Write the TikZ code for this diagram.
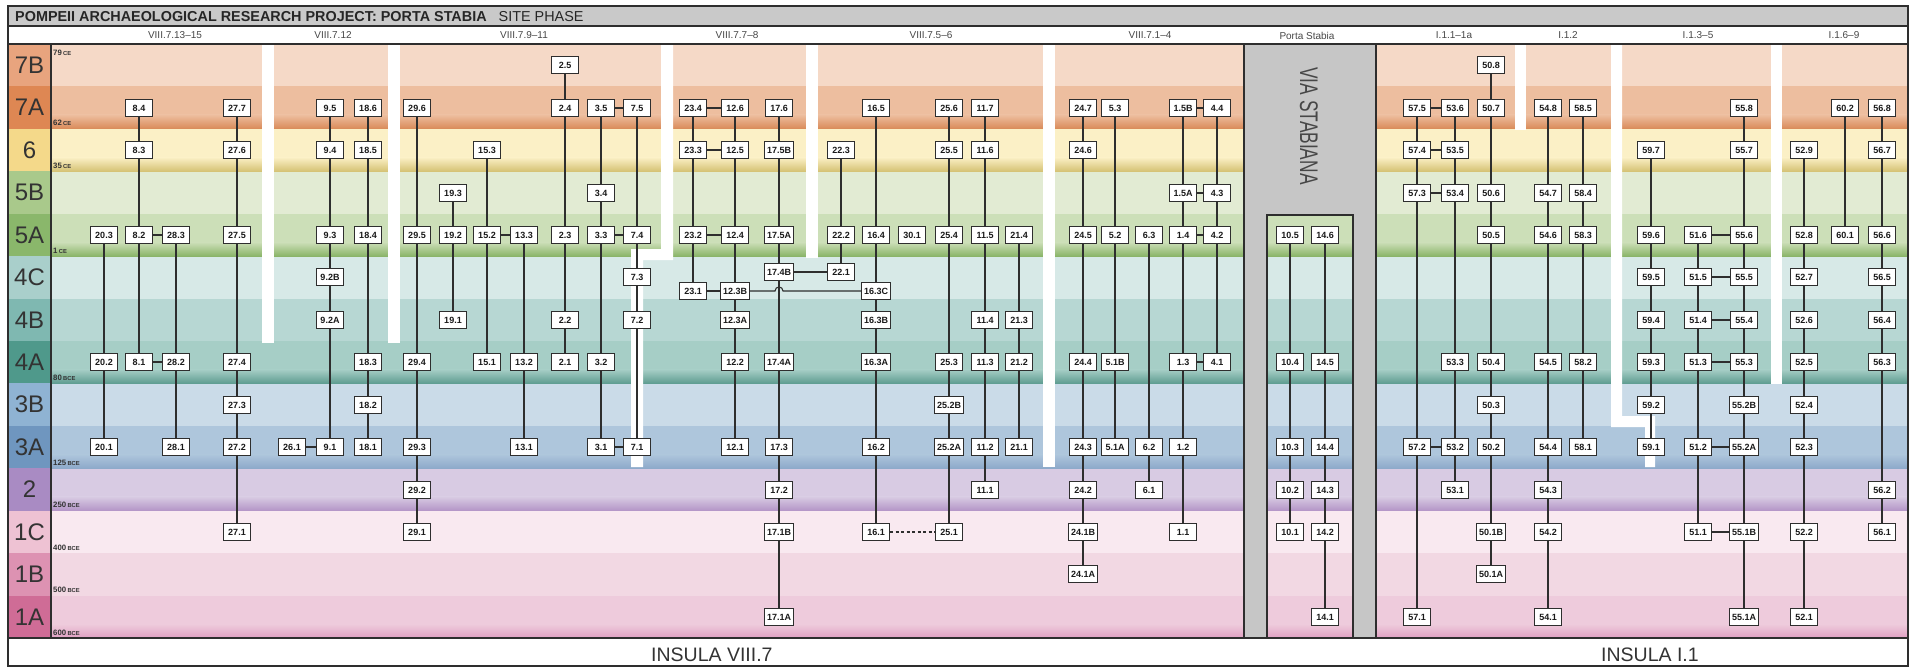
\documentclass[tikz,border=0pt]{standalone}
\usepackage{fontspec}
\setmainfont{Liberation Sans}
\usepackage{graphicx}
\usepackage{tikz}
\usetikzlibrary{calc}
% body colours of the phase bands, and the darker band foot
\definecolor{c7B}{HTML}{F5D9C7}\definecolor{c7A}{HTML}{EDBE9F}\definecolor{k7A}{HTML}{D98A58}
\definecolor{c6}{HTML}{FBF0C6}\definecolor{k6}{HTML}{D5C274}
\definecolor{c5B}{HTML}{E2EBD3}\definecolor{c5A}{HTML}{CCDFB8}\definecolor{k5A}{HTML}{8AB468}
\definecolor{c4C}{HTML}{D7E9E7}\definecolor{c4B}{HTML}{B7D7D3}\definecolor{c4A}{HTML}{A6CEC6}\definecolor{k4A}{HTML}{5E9C90}
\definecolor{c3B}{HTML}{CADBE8}\definecolor{c3A}{HTML}{AEC6DC}\definecolor{k3A}{HTML}{8DA9CA}
\definecolor{c2}{HTML}{D8CBE3}\definecolor{k2}{HTML}{B394C6}
\definecolor{c1C}{HTML}{F9E9F0}\definecolor{c1B}{HTML}{F2D8E3}\definecolor{c1A}{HTML}{EECBDC}\definecolor{k1A}{HTML}{E0A0C2}
% phase label column
\definecolor{l7B}{HTML}{E8A47E}\definecolor{l7A}{HTML}{DE8753}\definecolor{l6}{HTML}{F4D98A}
\definecolor{l5B}{HTML}{A9C98B}\definecolor{l5A}{HTML}{8AB76B}\definecolor{l4C}{HTML}{A9CFCB}
\definecolor{l4B}{HTML}{7FB8B1}\definecolor{l4A}{HTML}{4F998B}\definecolor{l3B}{HTML}{8FB3D3}
\definecolor{l3A}{HTML}{6F96BF}\definecolor{l2}{HTML}{A98BC3}\definecolor{l1C}{HTML}{EEC2D3}
\definecolor{l1B}{HTML}{DD92B2}\definecolor{l1A}{HTML}{CF6C96}
\definecolor{titleGray}{HTML}{C9C9C9}
\definecolor{viaGray}{HTML}{C6C6C6}
\definecolor{frameInk}{HTML}{2E2E2E}
\tikzset{
  pbox/.style={draw=frameInk,fill=white,line width=1.35pt,inner sep=2.4pt,
    minimum width=27pt,minimum height=17pt,text=black!90,
    font=\bfseries\fontsize{9}{9}\selectfont},
  plink/.style={draw=frameInk,line width=1.1pt},
  pdash/.style={plink,dash pattern=on 3pt off 2.5pt},
  phlbl/.style={font=\fontsize{24}{24}\selectfont,text=black!80},
  datelbl/.style={font=\bfseries\fontsize{7.8}{8}\selectfont,text=black!80,
    inner sep=0pt,anchor=base west},
  sublbl/.style={font=\fontsize{10}{10}\selectfont,text=black!72},
  framel/.style={draw=frameInk,line width=1.4pt},
}
\newcommand{\ry}[1]{44+42.43*(#1)}
\newcommand{\pbx}[4]{\node[pbox] (#1) at (#2,{round(44+42.43*(#3+0.5))}) {#4};}
\newcommand{\smc}[1]{{\fontsize{5.8}{6}\selectfont #1}}

\begin{document}
\begin{tikzpicture}[x=1pt,y=-1pt]
\fill[white] (0,0) rectangle (1916,669);
\useasboundingbox (0,0) rectangle (1916,669);
\fill[titleGray] (8,6) rectangle (1908,26);
% phase bands
\foreach \r/\c in {0/c7B,1/c7A,2/c6,3/c5B,4/c5A,5/c4C,6/c4B,7/c4A,8/c3B,9/c3A,10/c2,11/c1C,12/c1B,13/c1A}
  \fill[\c] (51,{\ry{\r}}) rectangle (1908,{\ry{\r+1}});
\foreach \r/\c/\d in {1/c7A/k7A,2/c6/k6,4/c5A/k5A,7/c4A/k4A,9/c3A/k3A,10/c2/k2,13/c1A/k1A}
  \shade[top color=\c,bottom color=\d] (51,{\ry{\r+1}-14}) rectangle (1908,{\ry{\r+1}});
\foreach \r/\t in {0/7B,1/7A,2/6,3/5B,4/5A,5/4C,6/4B,7/4A,8/3B,9/3A,10/2,11/1C,12/1B,13/1A}{
  \fill[l\t] (8,{\ry{\r}}) rectangle (51,{\ry{\r+1}});
  \node[phlbl] (ph\t) at (29.5,{\ry{\r+.5}}) {\t};
}
% white gaps between the properties
\fill[white] (262,44) rectangle (274,343);
\fill[white] (388,44) rectangle (400,343);
\fill[white] (661,44) -- (673,44) -- (673,260) -- (643,260) -- (643,467) -- (631,467) -- (631,249) -- (661,249) -- cycle;
\fill[white] (806,44) rectangle (818,258);
\fill[white] (1043,44) rectangle (1055,467);
\fill[white] (1515,44) rectangle (1526,130);
\fill[white] (1611,44) -- (1622,44) -- (1622,416) -- (1655,416) -- (1655,467) -- (1645,467) -- (1645,427) -- (1611,427) -- cycle;
\fill[white] (1771,44) rectangle (1782,384);
% Via Stabiana
\fill[viaGray] (1244,44) rectangle (1376,215);
\fill[viaGray] (1244,215) rectangle (1267,638);
\fill[viaGray] (1353,215) rectangle (1376,638);
% frame
\draw[framel] (8,6) rectangle (1908,666);
\draw[framel] (8,26) -- (1908,26);
\draw[framel] (8,44) -- (1908,44);
\draw[framel] (8,638) -- (1908,638);
\draw[framel] (51,44) -- (51,638);
\draw[framel] (1244,44) -- (1244,638);
\draw[framel] (1376,44) -- (1376,638);
\draw[framel] (1267,638) |- (1353,215) -- (1353,638);
% headings
\node[anchor=west,inner sep=0pt,text=black!85] (title) at (15,16.5)
  {\fontsize{14.4}{14}\selectfont\textbf{POMPEII ARCHAEOLOGICAL RESEARCH PROJECT: PORTA STABIA}\hspace{8pt} SITE PHASE};
\foreach \x/\t [count=\i] in {175/VIII.7.13--15,333/VIII.7.12,524/VIII.7.9--11,737/VIII.7.7--8,931/VIII.7.5--6,
  1150/VIII.7.1--4,1307/Porta Stabia,1454/I.1.1--1a,1568/I.1.2,1698/I.1.3--5,1844/I.1.6--9}
  \node[sublbl] (sub\i) at (\x,35.5) {\t};
\node[rotate=-90,text=black!72] (via) at (1309,126)
  {\scalebox{0.68}[1]{\fontsize{25.5}{25}\selectfont VIA STABIANA}};
\node[anchor=west,inner sep=0pt,text=black!80,font=\fontsize{19.5}{20}\selectfont] (insVIII) at (651,655) {INSULA VIII.7};
\node[anchor=west,inner sep=0pt,text=black!80,font=\fontsize{19.5}{20}\selectfont] (insI) at (1601,655) {INSULA I.1};
% dates
\node[datelbl] (d79) at (53,55.5) {79\,\smc{CE}};
\foreach \r/\n/\e [count=\i] in {2/62/CE,3/35/CE,5/1/CE,8/80/BCE,10/125/BCE,11/250/BCE,12/400/BCE,13/500/BCE,14/600/BCE}
  \node[datelbl] (dt\i) at (53,{\ry{\r}-3}) {\n\,\smc{\e}};
% VIII.7.13-15
\pbx{n20-3}{104}{4}{20.3} \pbx{n20-2}{104}{7}{20.2} \pbx{n20-1}{104}{9}{20.1}
\pbx{n8-4}{139}{1}{8.4} \pbx{n8-3}{139}{2}{8.3} \pbx{n8-2}{139}{4}{8.2} \pbx{n8-1}{139}{7}{8.1}
\pbx{n28-3}{176}{4}{28.3} \pbx{n28-2}{176}{7}{28.2} \pbx{n28-1}{176}{9}{28.1}
\pbx{n27-7}{237}{1}{27.7} \pbx{n27-6}{237}{2}{27.6} \pbx{n27-5}{237}{4}{27.5} \pbx{n27-4}{237}{7}{27.4}
\pbx{n27-3}{237}{8}{27.3} \pbx{n27-2}{237}{9}{27.2} \pbx{n27-1}{237}{11}{27.1}
% VIII.7.12
\pbx{n26-1}{292}{9}{26.1}
\pbx{n9-5}{330}{1}{9.5} \pbx{n9-4}{330}{2}{9.4} \pbx{n9-3}{330}{4}{9.3} \pbx{n9-2B}{330}{5}{9.2B}
\pbx{n9-2A}{330}{6}{9.2A} \pbx{n9-1}{330}{9}{9.1}
\pbx{n18-6}{368}{1}{18.6} \pbx{n18-5}{368}{2}{18.5} \pbx{n18-4}{368}{4}{18.4} \pbx{n18-3}{368}{7}{18.3}
\pbx{n18-2}{368}{8}{18.2} \pbx{n18-1}{368}{9}{18.1}
% VIII.7.9-11
\pbx{n29-6}{417}{1}{29.6} \pbx{n29-5}{417}{4}{29.5} \pbx{n29-4}{417}{7}{29.4} \pbx{n29-3}{417}{9}{29.3}
\pbx{n29-2}{417}{10}{29.2} \pbx{n29-1}{417}{11}{29.1}
\pbx{n19-3}{453}{3}{19.3} \pbx{n19-2}{453}{4}{19.2} \pbx{n19-1}{453}{6}{19.1}
\pbx{n15-3}{487}{2}{15.3} \pbx{n15-2}{487}{4}{15.2} \pbx{n15-1}{487}{7}{15.1}
\pbx{n13-3}{524}{4}{13.3} \pbx{n13-2}{524}{7}{13.2} \pbx{n13-1}{524}{9}{13.1}
\pbx{n2-5}{565}{0}{2.5} \pbx{n2-4}{565}{1}{2.4} \pbx{n2-3}{565}{4}{2.3} \pbx{n2-2}{565}{6}{2.2} \pbx{n2-1}{565}{7}{2.1}
\pbx{n3-5}{601}{1}{3.5} \pbx{n3-4}{601}{3}{3.4} \pbx{n3-3}{601}{4}{3.3} \pbx{n3-2}{601}{7}{3.2} \pbx{n3-1}{601}{9}{3.1}
\pbx{n7-5}{637}{1}{7.5} \pbx{n7-4}{637}{4}{7.4} \pbx{n7-3}{637}{5}{7.3} \pbx{n7-2}{637}{6}{7.2} \pbx{n7-1}{637}{9}{7.1}
% VIII.7.7-8
\pbx{n23-4}{693}{1}{23.4} \pbx{n23-3}{693}{2}{23.3} \pbx{n23-2}{693}{4}{23.2} \pbx{n23-1}{693}{5.32}{23.1}
\pbx{n12-6}{735}{1}{12.6} \pbx{n12-5}{735}{2}{12.5} \pbx{n12-4}{735}{4}{12.4} \pbx{n12-3B}{735}{5.32}{12.3B}
\pbx{n12-3A}{735}{6}{12.3A} \pbx{n12-2}{735}{7}{12.2} \pbx{n12-1}{735}{9}{12.1}
\pbx{n17-6}{779}{1}{17.6} \pbx{n17-5B}{779}{2}{17.5B} \pbx{n17-5A}{779}{4}{17.5A} \pbx{n17-4B}{779}{4.87}{17.4B}
\pbx{n17-4A}{779}{7}{17.4A} \pbx{n17-3}{779}{9}{17.3} \pbx{n17-2}{779}{10}{17.2} \pbx{n17-1B}{779}{11}{17.1B}
\pbx{n17-1A}{779}{13}{17.1A}
% VIII.7.5-6
\pbx{n22-3}{841}{2}{22.3} \pbx{n22-2}{841}{4}{22.2} \pbx{n22-1}{841}{4.87}{22.1}
\pbx{n16-5}{876}{1}{16.5} \pbx{n16-4}{876}{4}{16.4} \pbx{n16-3C}{876}{5.32}{16.3C} \pbx{n16-3B}{876}{6}{16.3B}
\pbx{n16-3A}{876}{7}{16.3A} \pbx{n16-2}{876}{9}{16.2} \pbx{n16-1}{876}{11}{16.1}
\pbx{n30-1}{912}{4}{30.1}
\pbx{n25-6}{949}{1}{25.6} \pbx{n25-5}{949}{2}{25.5} \pbx{n25-4}{949}{4}{25.4} \pbx{n25-3}{949}{7}{25.3}
\pbx{n25-2B}{949}{8}{25.2B} \pbx{n25-2A}{949}{9}{25.2A} \pbx{n25-1}{949}{11}{25.1}
\pbx{n11-7}{985}{1}{11.7} \pbx{n11-6}{985}{2}{11.6} \pbx{n11-5}{985}{4}{11.5} \pbx{n11-4}{985}{6}{11.4}
\pbx{n11-3}{985}{7}{11.3} \pbx{n11-2}{985}{9}{11.2} \pbx{n11-1}{985}{10}{11.1}
\pbx{n21-4}{1019}{4}{21.4} \pbx{n21-3}{1019}{6}{21.3} \pbx{n21-2}{1019}{7}{21.2} \pbx{n21-1}{1019}{9}{21.1}
% VIII.7.1-4
\pbx{n24-7}{1083}{1}{24.7} \pbx{n24-6}{1083}{2}{24.6} \pbx{n24-5}{1083}{4}{24.5} \pbx{n24-4}{1083}{7}{24.4}
\pbx{n24-3}{1083}{9}{24.3} \pbx{n24-2}{1083}{10}{24.2} \pbx{n24-1B}{1083}{11}{24.1B} \pbx{n24-1A}{1083}{12}{24.1A}
\pbx{n5-3}{1115}{1}{5.3} \pbx{n5-2}{1115}{4}{5.2} \pbx{n5-1B}{1115}{7}{5.1B} \pbx{n5-1A}{1115}{9}{5.1A}
\pbx{n6-3}{1149}{4}{6.3} \pbx{n6-2}{1149}{9}{6.2} \pbx{n6-1}{1149}{10}{6.1}
\pbx{n1-5B}{1183}{1}{1.5B} \pbx{n1-5A}{1183}{3}{1.5A} \pbx{n1-4}{1183}{4}{1.4} \pbx{n1-3}{1183}{7}{1.3}
\pbx{n1-2}{1183}{9}{1.2} \pbx{n1-1}{1183}{11}{1.1}
\pbx{n4-4}{1217}{1}{4.4} \pbx{n4-3}{1217}{3}{4.3} \pbx{n4-2}{1217}{4}{4.2} \pbx{n4-1}{1217}{7}{4.1}
% Porta Stabia
\pbx{n10-5}{1290}{4}{10.5} \pbx{n10-4}{1290}{7}{10.4} \pbx{n10-3}{1290}{9}{10.3} \pbx{n10-2}{1290}{10}{10.2}
\pbx{n10-1}{1290}{11}{10.1}
\pbx{n14-6}{1325}{4}{14.6} \pbx{n14-5}{1325}{7}{14.5} \pbx{n14-4}{1325}{9}{14.4} \pbx{n14-3}{1325}{10}{14.3}
\pbx{n14-2}{1325}{11}{14.2} \pbx{n14-1}{1325}{13}{14.1}
% I.1.1-1a, I.1.2
\pbx{n57-5}{1417}{1}{57.5} \pbx{n57-4}{1417}{2}{57.4} \pbx{n57-3}{1417}{3}{57.3} \pbx{n57-2}{1417}{9}{57.2}
\pbx{n57-1}{1417}{13}{57.1}
\pbx{n53-6}{1455}{1}{53.6} \pbx{n53-5}{1455}{2}{53.5} \pbx{n53-4}{1455}{3}{53.4} \pbx{n53-3}{1455}{7}{53.3}
\pbx{n53-2}{1455}{9}{53.2} \pbx{n53-1}{1455}{10}{53.1}
\pbx{n50-8}{1491}{0}{50.8} \pbx{n50-7}{1491}{1}{50.7} \pbx{n50-6}{1491}{3}{50.6} \pbx{n50-5}{1491}{4}{50.5}
\pbx{n50-4}{1491}{7}{50.4} \pbx{n50-3}{1491}{8}{50.3} \pbx{n50-2}{1491}{9}{50.2} \pbx{n50-1B}{1491}{11}{50.1B}
\pbx{n50-1A}{1491}{12}{50.1A}
\pbx{n54-8}{1548}{1}{54.8} \pbx{n54-7}{1548}{3}{54.7} \pbx{n54-6}{1548}{4}{54.6} \pbx{n54-5}{1548}{7}{54.5}
\pbx{n54-4}{1548}{9}{54.4} \pbx{n54-3}{1548}{10}{54.3} \pbx{n54-2}{1548}{11}{54.2} \pbx{n54-1}{1548}{13}{54.1}
\pbx{n58-5}{1583}{1}{58.5} \pbx{n58-4}{1583}{3}{58.4} \pbx{n58-3}{1583}{4}{58.3} \pbx{n58-2}{1583}{7}{58.2}
\pbx{n58-1}{1583}{9}{58.1}
% I.1.3-5, I.1.6-9
\pbx{n59-7}{1651}{2}{59.7} \pbx{n59-6}{1651}{4}{59.6} \pbx{n59-5}{1651}{5}{59.5} \pbx{n59-4}{1651}{6}{59.4}
\pbx{n59-3}{1651}{7}{59.3} \pbx{n59-2}{1651}{8}{59.2} \pbx{n59-1}{1651}{9}{59.1}
\pbx{n51-6}{1698}{4}{51.6} \pbx{n51-5}{1698}{5}{51.5} \pbx{n51-4}{1698}{6}{51.4} \pbx{n51-3}{1698}{7}{51.3}
\pbx{n51-2}{1698}{9}{51.2} \pbx{n51-1}{1698}{11}{51.1}
\pbx{n55-8}{1744}{1}{55.8} \pbx{n55-7}{1744}{2}{55.7} \pbx{n55-6}{1744}{4}{55.6} \pbx{n55-5}{1744}{5}{55.5}
\pbx{n55-4}{1744}{6}{55.4} \pbx{n55-3}{1744}{7}{55.3} \pbx{n55-2B}{1744}{8}{55.2B} \pbx{n55-2A}{1744}{9}{55.2A}
\pbx{n55-1B}{1744}{11}{55.1B} \pbx{n55-1A}{1744}{13}{55.1A}
\pbx{n52-9}{1804}{2}{52.9} \pbx{n52-8}{1804}{4}{52.8} \pbx{n52-7}{1804}{5}{52.7} \pbx{n52-6}{1804}{6}{52.6}
\pbx{n52-5}{1804}{7}{52.5} \pbx{n52-4}{1804}{8}{52.4} \pbx{n52-3}{1804}{9}{52.3} \pbx{n52-2}{1804}{11}{52.2}
\pbx{n52-1}{1804}{13}{52.1}
\pbx{n60-2}{1845}{1}{60.2} \pbx{n60-1}{1845}{4}{60.1}
\pbx{n56-8}{1882}{1}{56.8} \pbx{n56-7}{1882}{2}{56.7} \pbx{n56-6}{1882}{4}{56.6} \pbx{n56-5}{1882}{5}{56.5}
\pbx{n56-4}{1882}{6}{56.4} \pbx{n56-3}{1882}{7}{56.3} \pbx{n56-2}{1882}{10}{56.2} \pbx{n56-1}{1882}{11}{56.1}
% sequences
\draw[plink] (n20-3)--(n20-2)--(n20-1);
\draw[plink] (n8-4)--(n8-3)--(n8-2)--(n8-1);
\draw[plink] (n28-3)--(n28-2)--(n28-1);
\draw[plink] (n8-2)--(n28-3); \draw[plink] (n8-1)--(n28-2);
\draw[plink] (n27-7)--(n27-6)--(n27-5)--(n27-4)--(n27-3)--(n27-2)--(n27-1);
\draw[plink] (n9-5)--(n9-4)--(n9-3)--(n9-2B)--(n9-2A)--(n9-1);
\draw[plink] (n26-1)--(n9-1);
\draw[plink] (n18-6)--(n18-5)--(n18-4)--(n18-3)--(n18-2)--(n18-1);
\draw[plink] (n29-6)--(n29-5)--(n29-4)--(n29-3)--(n29-2)--(n29-1);
\draw[plink] (n19-3)--(n19-2)--(n19-1);
\draw[plink] (n15-3)--(n15-2)--(n15-1);
\draw[plink] (n13-3)--(n13-2)--(n13-1);
\draw[plink] (n15-2)--(n13-3);
\draw[plink] (n2-5)--(n2-4)--(n2-3)--(n2-2)--(n2-1);
\draw[plink] (n3-5)--(n3-4)--(n3-3)--(n3-2)--(n3-1);
\draw[plink] (n7-5)--(n7-4)--(n7-3)--(n7-2)--(n7-1);
\draw[plink] (n3-5)--(n7-5); \draw[plink] (n3-3)--(n7-4); \draw[plink] (n3-1)--(n7-1);
\draw[plink] (n23-4)--(n23-3)--(n23-2)--(n23-1);
\draw[plink] (n12-6)--(n12-5)--(n12-4)--(n12-3B)--(n12-3A)--(n12-2)--(n12-1);
\draw[plink] (n23-4)--(n12-6); \draw[plink] (n23-3)--(n12-5);
\draw[plink] (n23-2)--(n12-4); \draw[plink] (n23-1)--(n12-3B);
\draw[plink] (n17-6)--(n17-5B)--(n17-5A)--(n17-4B)--(n17-4A)--(n17-3)--(n17-2)--(n17-1B)--(n17-1A);
\draw[plink] (n22-3)--(n22-2)--(n22-1);
\draw[plink] (n17-4B)--(n22-1);
\draw[plink] (n12-3B.east) -- ($(n17-4B.center |- n12-3B.east)+(-4pt,0pt)$)
  .. controls +(0pt,5.3pt) and +(0pt,5.3pt) .. ($(n17-4B.center |- n12-3B.east)+(4pt,0pt)$) -- (n16-3C.west);
\draw[plink] (n16-5)--(n16-4)--(n16-3C)--(n16-3B)--(n16-3A)--(n16-2)--(n16-1);
\draw[plink] (n25-6)--(n25-5)--(n25-4)--(n25-3)--(n25-2B)--(n25-2A)--(n25-1);
\draw[pdash] (n16-1)--(n25-1);
\draw[plink] (n11-7)--(n11-6)--(n11-5)--(n11-4)--(n11-3)--(n11-2)--(n11-1);
\draw[plink] (n21-4)--(n21-3)--(n21-2)--(n21-1);
\draw[plink] (n24-7)--(n24-6)--(n24-5)--(n24-4)--(n24-3)--(n24-2)--(n24-1B)--(n24-1A);
\draw[plink] (n5-3)--(n5-2)--(n5-1B)--(n5-1A);
\draw[plink] (n6-3)--(n6-2)--(n6-1);
\draw[plink] (n1-5B)--(n1-5A)--(n1-4)--(n1-3)--(n1-2)--(n1-1);
\draw[plink] (n4-4)--(n4-3)--(n4-2)--(n4-1);
\draw[plink] (n1-5B)--(n4-4); \draw[plink] (n1-5A)--(n4-3);
\draw[plink] (n1-4)--(n4-2); \draw[plink] (n1-3)--(n4-1);
\draw[plink] (n10-5)--(n10-4)--(n10-3)--(n10-2)--(n10-1);
\draw[plink] (n14-6)--(n14-5)--(n14-4)--(n14-3)--(n14-2)--(n14-1);
\draw[plink] (n57-5)--(n57-4)--(n57-3)--(n57-2)--(n57-1);
\draw[plink] (n53-6)--(n53-5)--(n53-4)--(n53-3)--(n53-2)--(n53-1);
\draw[plink] (n57-5)--(n53-6); \draw[plink] (n57-4)--(n53-5);
\draw[plink] (n57-3)--(n53-4); \draw[plink] (n57-2)--(n53-2);
\draw[plink] (n50-8)--(n50-7)--(n50-6)--(n50-5)--(n50-4)--(n50-3)--(n50-2)--(n50-1B)--(n50-1A);
\draw[plink] (n54-8)--(n54-7)--(n54-6)--(n54-5)--(n54-4)--(n54-3)--(n54-2)--(n54-1);
\draw[plink] (n58-5)--(n58-4)--(n58-3)--(n58-2)--(n58-1);
\draw[plink] (n59-7)--(n59-6)--(n59-5)--(n59-4)--(n59-3)--(n59-2)--(n59-1);
\draw[plink] (n51-6)--(n51-5)--(n51-4)--(n51-3)--(n51-2)--(n51-1);
\draw[plink] (n55-8)--(n55-7)--(n55-6)--(n55-5)--(n55-4)--(n55-3)--(n55-2B)--(n55-2A)--(n55-1B)--(n55-1A);
\draw[plink] (n51-6)--(n55-6); \draw[plink] (n51-5)--(n55-5); \draw[plink] (n51-4)--(n55-4);
\draw[plink] (n51-3)--(n55-3); \draw[plink] (n51-2)--(n55-2A); \draw[plink] (n51-1)--(n55-1B);
\draw[plink] (n52-9)--(n52-8)--(n52-7)--(n52-6)--(n52-5)--(n52-4)--(n52-3)--(n52-2)--(n52-1);
\draw[plink] (n60-2)--(n60-1);
\draw[plink] (n56-8)--(n56-7)--(n56-6)--(n56-5)--(n56-4)--(n56-3)--(n56-2)--(n56-1);
\end{tikzpicture}
\end{document}
